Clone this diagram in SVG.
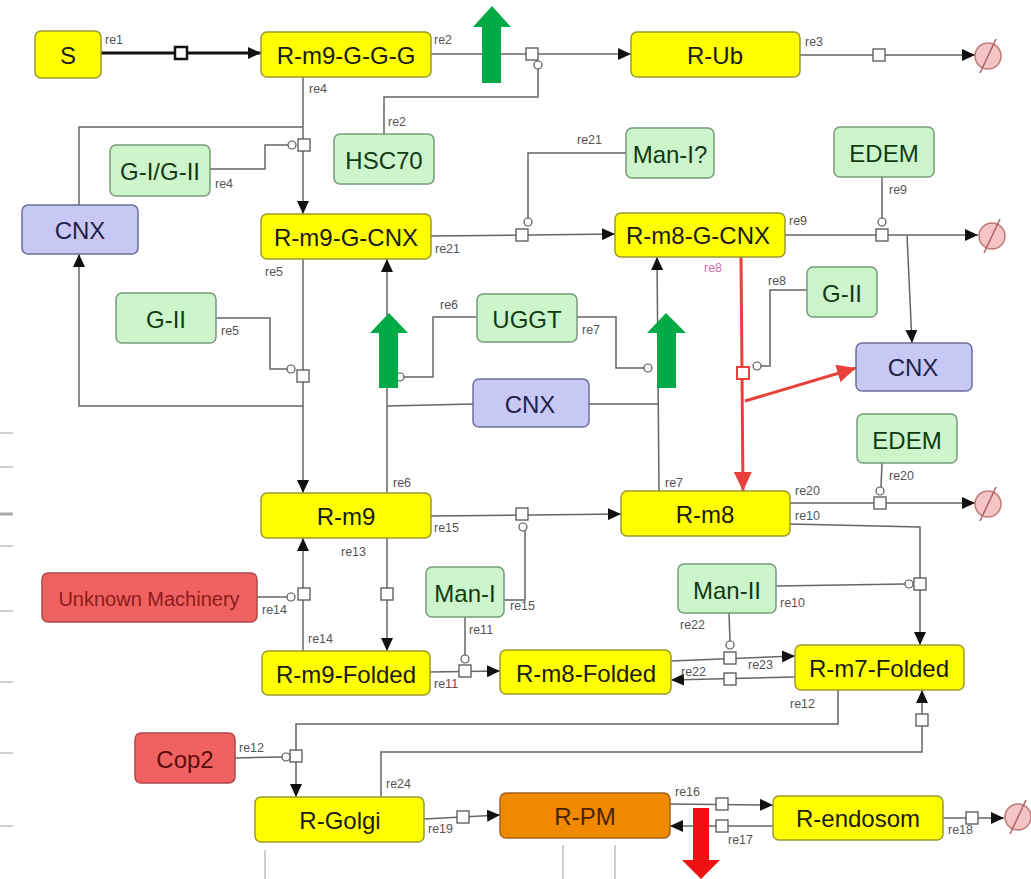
<svg xmlns="http://www.w3.org/2000/svg" width="1031" height="879" viewBox="0 0 1031 879">
<style>
.y{fill:#ffff00;stroke:#9a9a30;stroke-width:1.5}
.g{fill:#ccf5cc;stroke:#779a7a;stroke-width:1.5}
.b{fill:#c8c8f5;stroke:#6e6e9e;stroke-width:1.5}
.r{fill:#f06262;stroke:#b04848;stroke-width:1.5}
.o{fill:#f08800;stroke:#a06020;stroke-width:1.5}
.t{font-family:"Liberation Sans",Arial,sans-serif;font-size:24px;fill:#1a1a1a;text-anchor:middle;dominant-baseline:central}
.tg{fill:#123a12}
.tb{fill:#222248}
.l{font-family:"Liberation Sans",Arial,sans-serif;font-size:12.5px;fill:#555}
.c{fill:none;stroke:#666;stroke-width:1.5}
.rc{fill:none;stroke:#e8403a;stroke-width:3}
.sq{fill:#fff;stroke:#555;stroke-width:1.3}
.ci{fill:#fff;stroke:#555;stroke-width:1.2}
.es{fill:#f5c4c4;stroke:#c07878;stroke-width:1.5}
.bg{stroke:#d0d0d0;stroke-width:2}
</style>
<defs>
<marker id="a" markerUnits="userSpaceOnUse" markerWidth="14" markerHeight="12" refX="13" refY="6" orient="auto"><path d="M0,0 L13,6 L0,12 Z" fill="#111"/></marker>
<marker id="ar" markerUnits="userSpaceOnUse" markerWidth="20" markerHeight="18" refX="19" refY="9" orient="auto"><path d="M0,0 L19,9 L0,18 Z" fill="#e8403a"/></marker>
</defs>
<rect width="1031" height="879" fill="#fff"/>
<g id="background-artifacts">
<line class="bg" x1="0" y1="433" x2="13" y2="433"/>
<line class="bg" x1="0" y1="467" x2="13" y2="467"/>
<line x1="0" y1="514" x2="13" y2="514" stroke="#a8a8a8" stroke-width="3"/>
<line class="bg" x1="0" y1="546" x2="13" y2="546"/>
<line class="bg" x1="0" y1="611" x2="13" y2="611"/>
<line class="bg" x1="0" y1="682" x2="13" y2="682"/>
<line class="bg" x1="0" y1="753" x2="13" y2="753"/>
<line class="bg" x1="0" y1="826" x2="13" y2="826"/>
<line class="bg" x1="265" y1="850" x2="265" y2="879"/>
<line class="bg" x1="563" y1="845" x2="563" y2="879"/>
<line class="bg" x1="615" y1="845" x2="615" y2="879"/>
</g>
<g id="connectors">
<!-- re1 -->
<line x1="101" y1="53" x2="261" y2="53" stroke="#111" stroke-width="3" marker-end="url(#a)"/>
<rect x="175" y="47" width="12" height="12" fill="#fff" stroke="#111" stroke-width="2.5"/>
<text class="l" x="105" y="44">re1</text>
<!-- re2 -->
<line class="c" x1="431" y1="54" x2="631" y2="54" marker-end="url(#a)"/>
<polyline class="c" points="384,134 384,97 538,97 538,68"/>
<rect class="sq" x="526" y="48" width="12" height="12"/>
<circle class="ci" cx="538" cy="65" r="4"/>
<text class="l" x="434" y="44">re2</text>
<text class="l" x="388" y="126">re2</text>
<!-- re3 -->
<line class="c" x1="800" y1="55" x2="975" y2="55" marker-end="url(#a)"/>
<rect class="sq" x="873" y="49" width="12" height="12"/>
<text class="l" x="805" y="46">re3</text>
<!-- re4 -->
<line class="c" x1="303" y1="77" x2="303" y2="214" marker-end="url(#a)"/>
<polyline class="c" points="303,127 79,127 79,205"/>
<polyline class="c" points="210,169 265,169 265,145 288,145"/>
<rect class="sq" x="298" y="139" width="12" height="12"/>
<circle class="ci" cx="292" cy="145" r="4"/>
<text class="l" x="309" y="93">re4</text>
<text class="l" x="215" y="188">re4</text>
<!-- re21 -->
<line class="c" x1="431" y1="236" x2="615" y2="234" marker-end="url(#a)"/>
<polyline class="c" points="626,153 528,153 528,218"/>
<rect class="sq" x="516" y="229" width="12" height="12"/>
<circle class="ci" cx="528" cy="222" r="4"/>
<text class="l" x="577" y="144">re21</text>
<text class="l" x="435" y="253">re21</text>
<!-- re5 -->
<line class="c" x1="303" y1="259" x2="303" y2="493" marker-end="url(#a)"/>
<polyline class="c" points="303,406 79,406 79,254" marker-end="url(#a)"/>
<polyline class="c" points="216,318 270,318 270,369 287,369"/>
<rect class="sq" x="297" y="370" width="12" height="12"/>
<circle class="ci" cx="291" cy="369" r="4"/>
<text class="l" x="265" y="276">re5</text>
<text class="l" x="221" y="335">re5</text>
<!-- re6 -->
<line class="c" x1="387" y1="493" x2="387" y2="259" marker-end="url(#a)"/>
<polyline class="c" points="477,317 433,317 433,377 404,377"/>
<circle class="ci" cx="400" cy="377" r="4"/>
<line class="c" x1="387" y1="406" x2="473" y2="404"/>
<text class="l" x="440" y="309">re6</text>
<text class="l" x="393" y="487">re6</text>
<!-- re7 -->
<line class="c" x1="659" y1="491" x2="657" y2="257" marker-end="url(#a)"/>
<polyline class="c" points="577,317 616,317 616,368 644,368"/>
<circle class="ci" cx="648" cy="368" r="4"/>
<line class="c" x1="589" y1="404" x2="658" y2="404"/>
<text class="l" x="582" y="334">re7</text>
<text class="l" x="665" y="487">re7</text>
<!-- re8 (red) -->
<line class="rc" x1="741" y1="257" x2="743" y2="491" marker-end="url(#ar)"/>
<line class="rc" x1="745" y1="401" x2="856" y2="368" marker-end="url(#ar)"/>
<polyline class="c" points="807,290 770,290 770,366 761,366"/>
<rect x="737" y="367" width="12" height="12" fill="#fff" stroke="#e8403a" stroke-width="2"/>
<circle class="ci" cx="757" cy="366" r="4"/>
<text class="l" x="704" y="272" style="fill:#d070b0">re8</text>
<text class="l" x="768" y="285">re8</text>
<!-- re9 -->
<line class="c" x1="785" y1="235" x2="978" y2="235" marker-end="url(#a)"/>
<line class="c" x1="882" y1="177" x2="882" y2="218"/>
<line class="c" x1="907" y1="235" x2="912" y2="343" marker-end="url(#a)"/>
<rect class="sq" x="876" y="229" width="12" height="12"/>
<circle class="ci" cx="882" cy="222" r="4"/>
<text class="l" x="789" y="225">re9</text>
<text class="l" x="889" y="194">re9</text>
<!-- re20 -->
<line class="c" x1="790" y1="503" x2="975" y2="503" marker-end="url(#a)"/>
<line class="c" x1="882" y1="463" x2="881" y2="487"/>
<rect class="sq" x="874" y="497" width="12" height="12"/>
<circle class="ci" cx="880" cy="491" r="4"/>
<text class="l" x="795" y="495">re20</text>
<text class="l" x="889" y="480">re20</text>
<!-- re10 -->
<polyline class="c" points="790,524 920,527 920,645" marker-end="url(#a)"/>
<line class="c" x1="776" y1="586" x2="905" y2="584"/>
<rect class="sq" x="914" y="578" width="12" height="12"/>
<circle class="ci" cx="909" cy="584" r="4"/>
<text class="l" x="795" y="520">re10</text>
<text class="l" x="780" y="607">re10</text>
<!-- re15 -->
<line class="c" x1="431" y1="516" x2="621" y2="514" marker-end="url(#a)"/>
<polyline class="c" points="504,600 525,600 525,531"/>
<rect class="sq" x="516" y="508" width="12" height="12"/>
<circle class="ci" cx="523" cy="527" r="4"/>
<text class="l" x="434" y="532">re15</text>
<text class="l" x="510" y="610">re15</text>
<!-- re13 -->
<line class="c" x1="387" y1="538" x2="387" y2="651" marker-end="url(#a)"/>
<rect class="sq" x="381" y="588" width="12" height="12"/>
<text class="l" x="341" y="556">re13</text>
<!-- re14 -->
<line class="c" x1="303" y1="651" x2="303" y2="538" marker-end="url(#a)"/>
<line class="c" x1="257" y1="597" x2="287" y2="597"/>
<rect class="sq" x="298" y="588" width="12" height="12"/>
<circle class="ci" cx="291" cy="597" r="4"/>
<text class="l" x="262" y="614">re14</text>
<text class="l" x="308" y="643">re14</text>
<!-- re11 -->
<line class="c" x1="430" y1="672" x2="500" y2="671" marker-end="url(#a)"/>
<line class="c" x1="465" y1="617" x2="465" y2="655"/>
<rect class="sq" x="459" y="665" width="12" height="12"/>
<circle class="ci" cx="465" cy="659" r="4"/>
<text class="l" x="469" y="634">re11</text>
<text class="l" x="434" y="688">re11</text>
<!-- re23 / re22 -->
<line class="c" x1="671" y1="661" x2="795" y2="656" marker-end="url(#a)"/>
<line class="c" x1="795" y1="677" x2="671" y2="680" marker-end="url(#a)"/>
<line class="c" x1="729" y1="613" x2="730" y2="641"/>
<rect class="sq" x="724" y="652" width="12" height="12"/>
<circle class="ci" cx="730" cy="645" r="4"/>
<rect class="sq" x="724" y="673" width="12" height="12"/>
<text class="l" x="748" y="669">re23</text>
<text class="l" x="680" y="629">re22</text>
<text class="l" x="681" y="676">re22</text>
<!-- re12 -->
<polyline class="c" points="838,690 838,724 296,724 296,797" marker-end="url(#a)"/>
<line class="c" x1="235" y1="758" x2="282" y2="757"/>
<rect class="sq" x="290" y="750" width="12" height="12"/>
<circle class="ci" cx="286" cy="757" r="4"/>
<text class="l" x="790" y="708">re12</text>
<text class="l" x="239" y="752">re12</text>
<!-- re24 -->
<polyline class="c" points="381,797 381,752 922,752 922,690" marker-end="url(#a)"/>
<rect class="sq" x="916" y="714" width="12" height="12"/>
<text class="l" x="386" y="788">re24</text>
<!-- re19 -->
<line class="c" x1="424" y1="819" x2="500" y2="815" marker-end="url(#a)"/>
<rect class="sq" x="457" y="811" width="12" height="12"/>
<text class="l" x="428" y="833">re19</text>
<!-- re16 / re17 -->
<line class="c" x1="670" y1="804" x2="773" y2="805" marker-end="url(#a)"/>
<line class="c" x1="773" y1="826" x2="670" y2="826" marker-end="url(#a)"/>
<rect class="sq" x="716" y="798" width="12" height="12"/>
<rect class="sq" x="716" y="820" width="12" height="12"/>
<text class="l" x="675" y="796">re16</text>
<text class="l" x="728" y="844">re17</text>
<!-- re18 -->
<line class="c" x1="943" y1="818" x2="1004" y2="818" marker-end="url(#a)"/>
<rect class="sq" x="966" y="812" width="12" height="12"/>
<text class="l" x="948" y="834">re18</text>
</g>
<g id="degraded">
<g id="empty1"><circle class="es" cx="988" cy="56" r="13"/><line x1="996" y1="39" x2="980" y2="73" stroke="#b06060" stroke-width="1.5"/></g>
<g id="empty2"><circle class="es" cx="992" cy="236" r="13"/><line x1="1000" y1="219" x2="984" y2="253" stroke="#b06060" stroke-width="1.5"/></g>
<g id="empty3"><circle class="es" cx="988" cy="504" r="13"/><line x1="996" y1="487" x2="980" y2="521" stroke="#b06060" stroke-width="1.5"/></g>
<g id="empty4"><circle class="es" cx="1018" cy="817" r="13"/><line x1="1026" y1="800" x2="1010" y2="834" stroke="#b06060" stroke-width="1.5"/></g>
</g>
<g id="n-S"><rect class="y" x="35" y="31" width="66" height="47" rx="6"/><text class="t" x="68" y="55">S</text></g>
<g id="n-Rm9GGG"><rect class="y" x="261" y="32" width="170" height="45" rx="6"/><text class="t" x="346" y="55">R-m9-G-G-G</text></g>
<g id="n-RUb"><rect class="y" x="631" y="32" width="169" height="45" rx="6"/><text class="t" x="715" y="55">R-Ub</text></g>
<g id="n-HSC70"><rect class="g" x="334" y="134" width="100" height="50" rx="6"/><text class="t tg" x="384" y="160">HSC70</text></g>
<g id="n-GIGII"><rect class="g" x="110" y="145" width="100" height="51" rx="6"/><text class="t tg" x="160" y="171">G-I/G-II</text></g>
<g id="n-CNX1"><rect class="b" x="22" y="205" width="116" height="49" rx="6"/><text class="t tb" x="80" y="230">CNX</text></g>
<g id="n-ManIq"><rect class="g" x="626" y="128" width="88" height="50" rx="6"/><text class="t tg" x="670" y="154">Man-I?</text></g>
<g id="n-EDEM1"><rect class="g" x="834" y="127" width="100" height="50" rx="6"/><text class="t tg" x="884" y="153">EDEM</text></g>
<g id="n-Rm9GCNX"><rect class="y" x="261" y="214" width="170" height="45" rx="6"/><text class="t" x="346" y="237">R-m9-G-CNX</text></g>
<g id="n-Rm8GCNX"><rect class="y" x="615" y="213" width="170" height="44" rx="6"/><text class="t" x="698" y="235">R-m8-G-CNX</text></g>
<g id="n-GII1"><rect class="g" x="116" y="293" width="100" height="50" rx="6"/><text class="t tg" x="166" y="319">G-II</text></g>
<g id="n-UGGT"><rect class="g" x="477" y="294" width="100" height="48" rx="6"/><text class="t tg" x="527" y="319">UGGT</text></g>
<g id="n-GII2"><rect class="g" x="807" y="267" width="70" height="50" rx="6"/><text class="t tg" x="842" y="293">G-II</text></g>
<g id="n-CNX2"><rect class="b" x="856" y="343" width="116" height="48" rx="6"/><text class="t tb" x="913" y="367">CNX</text></g>
<g id="n-CNX3"><rect class="b" x="473" y="379" width="116" height="48" rx="6"/><text class="t tb" x="530" y="404">CNX</text></g>
<g id="n-EDEM2"><rect class="g" x="857" y="414" width="100" height="49" rx="6"/><text class="t tg" x="907" y="440">EDEM</text></g>
<g id="n-Rm9"><rect class="y" x="261" y="493" width="170" height="45" rx="6"/><text class="t" x="346" y="516">R-m9</text></g>
<g id="n-Rm8"><rect class="y" x="621" y="491" width="169" height="45" rx="6"/><text class="t" x="705" y="514">R-m8</text></g>
<g id="n-Unknown"><rect class="r" x="42" y="573" width="215" height="49" rx="6"/><text class="t" x="149" y="599" style="font-size:20px;fill:#8a1c1c">Unknown Machinery</text></g>
<g id="n-ManI"><rect class="g" x="426" y="567" width="78" height="50" rx="6"/><text class="t tg" x="465" y="593">Man-I</text></g>
<g id="n-ManII"><rect class="g" x="678" y="564" width="98" height="49" rx="6"/><text class="t tg" x="727" y="590">Man-II</text></g>
<g id="n-Rm9F"><rect class="y" x="262" y="651" width="168" height="44" rx="6"/><text class="t" x="346" y="674">R-m9-Folded</text></g>
<g id="n-Rm8F"><rect class="y" x="500" y="650" width="171" height="44" rx="6"/><text class="t" x="586" y="673">R-m8-Folded</text></g>
<g id="n-Rm7F"><rect class="y" x="795" y="645" width="169" height="45" rx="6"/><text class="t" x="879" y="668">R-m7-Folded</text></g>
<g id="n-Cop2"><rect class="r" x="135" y="733" width="100" height="50" rx="6"/><text class="t" x="185" y="759" style="fill:#5a0c0c">Cop2</text></g>
<g id="n-RGolgi"><rect class="y" x="255" y="797" width="169" height="45" rx="6"/><text class="t" x="340" y="820">R-Golgi</text></g>
<g id="n-RPM"><rect class="o" x="500" y="793" width="170" height="45" rx="6"/><text class="t" x="585" y="816" style="fill:#4a2400">R-PM</text></g>
<g id="n-Rendosom"><rect class="y" x="773" y="796" width="170" height="44" rx="6"/><text class="t" x="858" y="818">R-endosom</text></g>
<g id="big-arrows">
<polygon points="482,83 501,83 501,27 511,27 492,6 473,27 482,27" fill="#00aa44"/>
<polygon points="379,388 398,388 398,333 408,333 389,313 370,333 379,333" fill="#00aa44"/>
<polygon points="657,388 676,388 676,333 686,333 666,313 647,333 657,333" fill="#00aa44"/>
<polygon points="693,808 709,808 709,860 720,860 701,879 682,860 693,860" fill="#ee1111"/>
</g>
</svg>
